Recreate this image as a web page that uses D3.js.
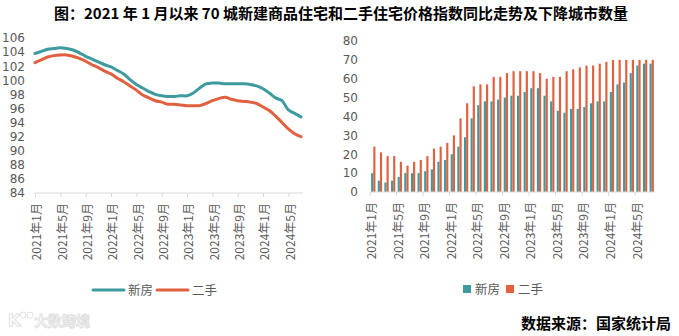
<!DOCTYPE html>
<html>
<head>
<meta charset="utf-8">
<script src="https://cdn.jsdelivr.net/npm/d3@7"></script>
<style>
  html, body { margin: 0; padding: 0; background: #fff; }
  svg { display: block; font-family: "DejaVu Sans", "Noto Sans CJK SC", sans-serif; }
  .tick-label { fill: #595959; font-size: 12px; }
  .cjk { font-family: "Noto Sans CJK SC", sans-serif; }
</style>
</head>
<body>
<svg id="chart" width="679" height="336"></svg>
<script>
// 2021年1月 - 2024年7月, one entry per month
const months = [];
for (let y = 2021; y <= 2024; y++) {
  for (let m = 1; m <= 12; m++) {
    if (y === 2024 && m > 7) break;
    months.push(`${y}年${m}月`);
  }
}

// 70城价格指数同比 (上年同月=100)
const newHomeIndex = [
  103.8, 104.1, 104.4, 104.5, 104.6, 104.5, 104.3, 103.9, 103.4, 103.0, 102.6, 102.2,
  101.9, 101.4, 100.9, 100.1, 99.4, 98.9, 98.4, 98.0, 97.8, 97.7, 97.7, 97.8,
  97.8, 98.2, 98.9, 99.5, 99.6, 99.6, 99.5, 99.5, 99.5, 99.5, 99.4, 99.2,
  98.8, 98.2, 97.5, 97.1, 95.8, 95.3, 94.8
];
const resaleIndex = [
  102.5, 102.9, 103.3, 103.5, 103.6, 103.6, 103.4, 103.1, 102.7, 102.2, 101.8, 101.3,
  100.9, 100.3, 99.8, 99.2, 98.6, 97.9, 97.5, 97.1, 96.9, 96.6, 96.6, 96.5,
  96.4, 96.4, 96.4, 96.7, 97.1, 97.4, 97.6, 97.3, 97.1, 97.0, 96.9, 96.7,
  96.2, 95.7, 94.9, 94.0, 93.1, 92.4, 92.0
];

// 同比下降城市数量
const newHomeDown = [
  10, 6, 5, 6, 8, 10, 10, 10, 11, 12, 16, 17,
  20, 24, 29, 39, 46, 48, 48, 49, 50, 51, 51, 53,
  55, 55, 51, 48, 43, 42, 44, 44, 45, 47, 48, 48,
  53, 57, 58, 63, 67, 68, 68
];
const resaleDown = [
  24, 21, 19, 19, 16, 14, 16, 17, 19, 23, 24, 26,
  30, 39, 47, 56, 57, 57, 61, 61, 63, 64, 64, 64,
  64, 63, 60, 61, 61, 64, 65, 66, 67, 67, 68, 69,
  70, 70, 70, 70, 70, 70, 70
];

const indexTicks = d3.range(84, 107, 2);
const countTicks = d3.range(0, 81, 10);
const seriesNames = ['新房', '二手'];
const colors = { '新房': '#3d9a9e', '二手': '#e0603f' };

const svg = d3.select('#chart');
const labelMonths = months.filter((d, i) => i % 4 === 0);

// title
svg.append('text')
  .attr('class', 'cjk')
  .attr('x', 341).attr('y', 19)
  .attr('text-anchor', 'middle')
  .attr('font-size', 15).attr('font-weight', 700)
  .attr('fill', '#000')
  .text('图：2021 年 1 月以来 70 城新建商品住宅和二手住宅价格指数同比走势及下降城市数量');

// ---- left: index lines ----
const xL = d3.scalePoint().domain(months).range([35, 301]);
const yL = d3.scaleLinear().domain([84, 106]).range([193, 38]);

const left = svg.append('g');

left.selectAll('.ylab')
  .data(indexTicks)
  .enter().append('text')
  .attr('class', 'tick-label')
  .attr('x', 25).attr('y', d => yL(d))
  .attr('dy', '0.36em')
  .attr('text-anchor', 'end')
  .text(d => d);

left.append('line')
  .attr('x1', xL(months[0]) - 1).attr('x2', xL(months[months.length - 1]) + 2)
  .attr('y1', yL(84)).attr('y2', yL(84))
  .attr('stroke', '#d9d9d9').attr('stroke-width', 1);

const xAxisL = d3.axisBottom(xL)
  .tickValues(labelMonths)
  .tickSize(4)
  .tickFormat('');
left.append('g')
  .attr('transform', `translate(0,${yL(84)})`)
  .call(xAxisL)
  .call(g => g.select('.domain').remove())
  .call(g => g.selectAll('.tick line').attr('stroke', '#d9d9d9'));

left.selectAll('.xlab')
  .data(labelMonths)
  .enter().append('text')
  .attr('class', 'tick-label cjk')
  .attr('transform', d => `translate(${xL(d) + 2},203) rotate(-90)`)
  .attr('dy', '0.36em')
  .attr('text-anchor', 'end')
  .text(d => d);

const line = d3.line()
  .x((d, i) => xL(months[i]))
  .y(d => yL(d))
  .curve(d3.curveCatmullRom.alpha(0.5));

[['新房', newHomeIndex], ['二手', resaleIndex]].forEach(([name, data]) => {
  left.append('path')
    .datum(data)
    .attr('fill', 'none')
    .attr('stroke', colors[name])
    .attr('stroke-width', 3)
    .attr('stroke-linecap', 'round')
    .attr('d', line);
});

// legend (lines)
const legL = left.append('g').attr('transform', 'translate(93,290)');
seriesNames.forEach((name, i) => {
  const g = legL.append('g').attr('transform', `translate(${i * 64},0)`);
  g.append('line')
    .attr('x1', 0).attr('x2', 31).attr('y1', 0).attr('y2', 0)
    .attr('stroke', colors[name]).attr('stroke-width', 3).attr('stroke-linecap', 'round');
  g.append('text')
    .attr('class', 'cjk')
    .attr('x', 35).attr('y', 0).attr('dy', '0.36em')
    .attr('font-size', 12.5).attr('fill', '#595959')
    .text(name);
});

// ---- right: city counts ----
const xR = d3.scaleBand().domain(months).range([370, 655]).paddingInner(0.35).paddingOuter(0.17);
const xSub = d3.scaleBand().domain(seriesNames).range([0, xR.bandwidth()]);
const yR = d3.scaleLinear().domain([0, 80]).range([192, 41]);

const right = svg.append('g');

right.selectAll('.ylab')
  .data(countTicks)
  .enter().append('text')
  .attr('class', 'tick-label')
  .attr('x', 358).attr('y', d => yR(d))
  .attr('dy', '0.36em')
  .attr('text-anchor', 'end')
  .text(d => d);

const groups = right.selectAll('.month')
  .data(months)
  .enter().append('g')
  .attr('transform', d => `translate(${xR(d)},0)`);

groups.selectAll('rect')
  .data((d, i) => [
    { name: '新房', value: newHomeDown[i] },
    { name: '二手', value: resaleDown[i] }
  ])
  .enter().append('rect')
  .attr('x', d => xSub(d.name))
  .attr('y', d => yR(d.value))
  .attr('width', xSub.bandwidth())
  .attr('height', d => yR(0) - yR(d.value))
  .attr('fill', d => colors[d.name]);

const step = xR.step();
const x0 = xR.range()[0];
right.append('line')
  .attr('x1', x0).attr('x2', xR.range()[1])
  .attr('y1', yR(0)).attr('y2', yR(0))
  .attr('stroke', '#d9d9d9');

right.selectAll('.xtick')
  .data(labelMonths)
  .enter().append('line')
  .attr('x1', (d, i) => x0 + i * 4 * step)
  .attr('x2', (d, i) => x0 + i * 4 * step)
  .attr('y1', yR(0)).attr('y2', yR(0) + 4)
  .attr('stroke', '#d9d9d9');

right.selectAll('.xlab')
  .data(labelMonths)
  .enter().append('text')
  .attr('class', 'tick-label cjk')
  .attr('transform', (d, i) => `translate(${x0 + i * 4 * step + 2},202) rotate(-90)`)
  .attr('dy', '0.36em')
  .attr('text-anchor', 'end')
  .text(d => d);

// legend (squares)
const legR = right.append('g').attr('transform', 'translate(463,289)');
seriesNames.forEach((name, i) => {
  const g = legR.append('g').attr('transform', `translate(${i * 43},0)`);
  g.append('rect')
    .attr('x', 0).attr('y', -4).attr('width', 8).attr('height', 8)
    .attr('fill', colors[name]);
  g.append('text')
    .attr('class', 'cjk')
    .attr('x', 12).attr('y', 0).attr('dy', '0.36em')
    .attr('font-size', 12.5).attr('fill', '#595959')
    .text(name);
});

// source note
svg.append('text')
  .attr('class', 'cjk')
  .attr('x', 671).attr('y', 329)
  .attr('text-anchor', 'end')
  .attr('font-size', 15).attr('font-weight', 700)
  .attr('fill', '#000')
  .text('数据来源：国家统计局');

// faint watermark
const wm = svg.append('g').attr('transform', 'translate(8,326)').attr('opacity', 0.55);
wm.append('text')
  .attr('font-size', 16).attr('font-weight', 700)
  .attr('fill', '#fff').attr('stroke', '#c8c8c8').attr('stroke-width', 1)
  .text('K');
wm.append('circle').attr('cx', 15).attr('cy', -11).attr('r', 3)
  .attr('fill', 'none').attr('stroke', '#c8c8c8');
wm.append('circle').attr('cx', 22).attr('cy', -11).attr('r', 3)
  .attr('fill', 'none').attr('stroke', '#c8c8c8');
wm.append('text')
  .attr('class', 'cjk')
  .attr('x', 26)
  .attr('font-size', 14).attr('font-weight', 700)
  .attr('fill', '#fff').attr('stroke', '#c8c8c8').attr('stroke-width', 1)
  .text('大数跨境');
</script>
</body>
</html>
